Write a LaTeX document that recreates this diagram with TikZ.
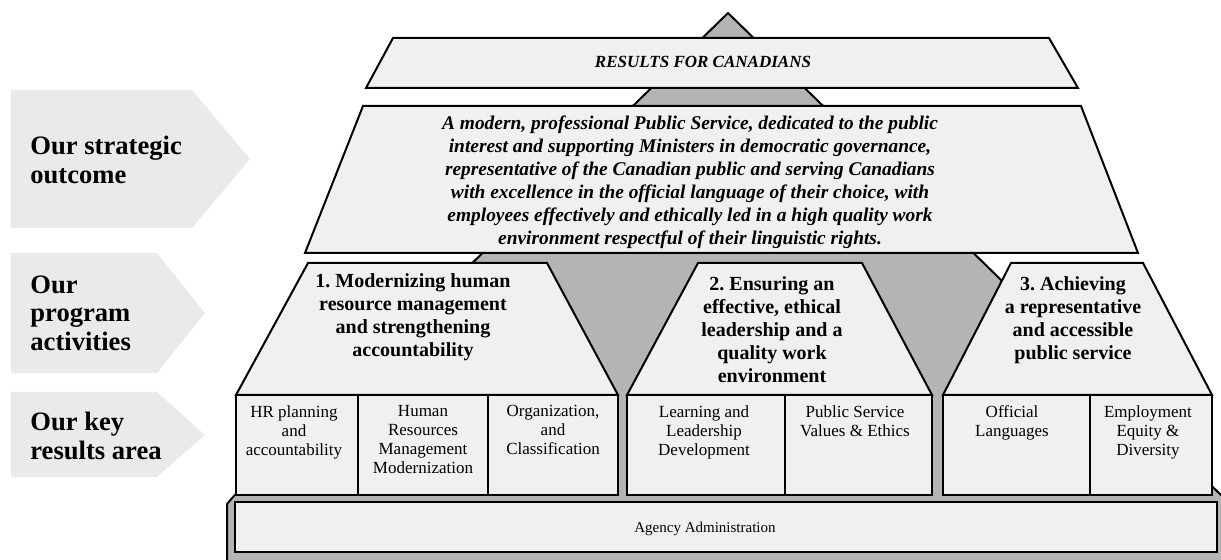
\documentclass[tikz,border=0pt]{standalone}
\usepackage{fontspec}
\setmainfont{Liberation Serif}
\usetikzlibrary{positioning}
\frenchspacing

\definecolor{boxfill}{HTML}{F0F0F0}
\definecolor{pyramid}{HTML}{B4B4B4}
\definecolor{tagfill}{HTML}{EAEAEA}

\begin{document}
\begin{tikzpicture}[x=0.5pt, y=-0.5pt,
    block/.style={draw=black, line width=1pt, fill=boxfill, line join=miter},
    tag/.style={fill=tagfill},
    tagtext/.style={anchor=west, align=left, inner sep=0pt, font=\fontsize{13.3}{14.2}\selectfont\bfseries},
    activity/.style={anchor=north, align=center, inner sep=0pt, font=\fontsize{10}{11.5}\selectfont\bfseries},
    kra/.style={anchor=north, align=center, inner sep=0pt, font=\fontsize{8.5}{9.5}\selectfont}]
    \useasboundingbox (0,0) rectangle (1221,560);
    \clip (0,0) rectangle (1221,560);

    % tags on the left
    \fill[tag] (11,90) -- (192,90) -- (250,159) -- (192,228) -- (11,228) -- cycle;
    \fill[tag] (11,253) -- (157,253) -- (205,313) -- (157,373) -- (11,373) -- cycle;
    \fill[tag] (11,392) -- (157,392) -- (205,435) -- (157,477) -- (11,477) -- cycle;
    \node[tagtext] (tagOutcome) at (30,160) {Our strategic\\outcome};
    \node[tagtext] (tagActivities) at (30,313) {Our\\program\\activities};
    \node[tagtext] (tagResults) at (30,436) {Our key\\results area};

    % grey pyramid with its base
    \draw[fill=pyramid, line width=1pt] (227,570) -- (227,504) -- (233,497) -- (728,13)
        -- (1223,497) -- (1229,504) -- (1229,570);

    % top layers
    \draw[block] (393,38) -- (1049,38) -- (1078,88) -- (366,88) -- cycle;
    \node[font=\fontsize{8.5}{10}\selectfont\bfseries\itshape] (results) at (703,62) {RESULTS FOR CANADIANS};

    \draw[block] (363,106) -- (1081,106) -- (1138,253) -- (305,253) -- cycle;
    \node[align=center, inner sep=0pt, font=\fontsize{9.7}{11.5}\selectfont\bfseries\itshape] (outcome) at (690,182)
        {A modern, professional Public Service, dedicated to the public\\
         interest and supporting Ministers in democratic governance,\\
         representative of the Canadian public and serving Canadians\\
         with excellence in the official language of their choice, with\\
         employees effectively and ethically led in a high quality work\\
         environment respectful of their linguistic rights.};

    % program activities
    \draw[block] (308,263) -- (547,263) -- (618,395) -- (236,395) -- cycle;
    \draw[block] (698,263) -- (862,263) -- (932,395) -- (627,395) -- cycle;
    \draw[block] (1011,263) -- (1143,263) -- (1212,395) -- (943,395) -- cycle;
    \node[activity] (act1) at (413,273) {1. Modernizing human\\resource management\\and strengthening\\accountability};
    \node[activity] (act2) at (772,276) {2. Ensuring an\\effective, ethical\\leadership and a\\quality work\\environment};
    \node[activity] (act3) at (1073,276) {3. Achieving\\a representative\\and accessible\\public service};

    % key results areas
    \draw[block] (236,395) rectangle (358,495);
    \draw[block] (358,395) rectangle (488,495);
    \draw[block] (488,395) rectangle (618,495);
    \draw[block] (627,395) rectangle (785,495);
    \draw[block] (785,395) rectangle (932,495);
    \draw[block] (943,395) rectangle (1090,495);
    \draw[block] (1090,395) rectangle (1212,495);
    \node[kra] (kra1) at (294,405) {HR planning\\and\\accountability};
    \node[kra] (kra2) at (423,405) {Human\\Resources\\Management\\Modernization};
    \node[kra] (kra3) at (553,405) {Organization,\\and\\Classification};
    \node[kra] (kra4) at (704,405) {Learning and\\Leadership\\Development};
    \node[kra] (kra5) at (855,405) {Public Service\\Values \& Ethics};
    \node[kra] (kra6) at (1012,405) {Official\\Languages};
    \node[kra] (kra7) at (1148,405) {Employment\\Equity \&\\Diversity};

    % base
    \draw[block] (235,502) rectangle (1217,552);
    \node[font=\fontsize{7.5}{9}\selectfont] (agency) at (705,529) {Agency Administration};
\end{tikzpicture}
\end{document}
